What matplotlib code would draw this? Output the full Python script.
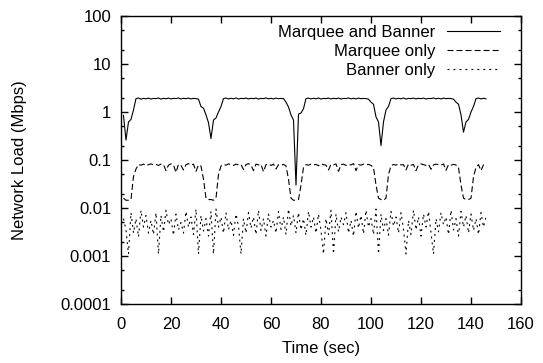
import numpy as np
import matplotlib
matplotlib.use("Agg")
from matplotlib import pyplot as plt
from matplotlib.ticker import FixedLocator, NullFormatter

# sampled once per second
time_sec = np.arange(1, 147)

marquee_banner = [
    0.85, 0.26, 0.62, 0.70, 1.10, 1.90, 1.95, 1.85, 1.92, 1.88,
    1.95, 1.86, 1.92, 1.90, 1.96, 1.85, 1.93, 1.88, 1.95, 1.87,
    1.92, 1.90, 1.96, 1.86, 1.93, 1.89, 1.95, 1.87, 1.92, 1.90,
    1.85, 1.30, 1.20, 0.87, 0.60, 0.28, 0.68, 0.75, 1.00, 1.30,
    1.90, 1.95, 1.87, 1.93, 1.88, 1.96, 1.86, 1.92, 1.90, 1.95,
    1.87, 1.93, 1.89, 1.95, 1.86, 1.92, 1.90, 1.96, 1.88, 1.93,
    1.87, 1.95, 1.89, 1.92, 1.90, 1.60, 1.27, 0.87, 0.68, 0.030,
    0.90, 0.95, 1.17, 1.90, 1.95, 1.87, 1.93, 1.88, 1.96, 1.86,
    1.92, 1.90, 1.95, 1.87, 1.93, 1.89, 1.95, 1.86, 1.92, 1.90,
    1.96, 1.88, 1.93, 1.87, 1.95, 1.89, 1.92, 1.90, 1.85, 1.60,
    1.45, 0.79, 0.62, 0.20, 0.62, 1.10, 1.30, 1.90, 1.95, 1.87,
    1.93, 1.88, 1.96, 1.86, 1.92, 1.90, 1.95, 1.87, 1.93, 1.89,
    1.95, 1.86, 1.92, 1.90, 1.96, 1.88, 1.93, 1.87, 1.95, 1.89,
    1.92, 1.90, 1.85, 1.60, 1.45, 0.87, 0.38, 0.62, 0.70, 1.00,
    1.30, 1.90, 1.95, 1.87, 1.93, 1.88,
]

marquee_only = [
    0.016, 0.0145, 0.0145, 0.015, 0.045, 0.065, 0.080, 0.078, 0.082, 0.076,
    0.080, 0.083, 0.079, 0.081, 0.077, 0.082, 0.080, 0.060, 0.078, 0.083,
    0.079, 0.055, 0.081, 0.077, 0.062, 0.080, 0.084, 0.078, 0.082, 0.058,
    0.079, 0.075, 0.040, 0.016, 0.015, 0.015, 0.0145, 0.016, 0.050, 0.075,
    0.081, 0.078, 0.083, 0.080, 0.077, 0.082, 0.079, 0.081, 0.063, 0.080,
    0.084, 0.078, 0.060, 0.082, 0.079, 0.081, 0.057, 0.080, 0.083, 0.077,
    0.082, 0.065, 0.080, 0.078, 0.081, 0.075, 0.040, 0.016, 0.0145, 0.0145,
    0.015, 0.030, 0.070, 0.080, 0.078, 0.082, 0.079, 0.081, 0.076, 0.083,
    0.080, 0.078, 0.062, 0.081, 0.079, 0.083, 0.058, 0.080, 0.082, 0.077,
    0.081, 0.079, 0.084, 0.060, 0.080, 0.078, 0.082, 0.079, 0.081, 0.077,
    0.070, 0.030, 0.016, 0.015, 0.0145, 0.016, 0.050, 0.075, 0.081, 0.078,
    0.083, 0.079, 0.080, 0.062, 0.082, 0.078, 0.081, 0.060, 0.079, 0.083,
    0.080, 0.077, 0.081, 0.064, 0.079, 0.082, 0.080, 0.078, 0.083, 0.061,
    0.080, 0.078, 0.081, 0.079, 0.070, 0.030, 0.016, 0.015, 0.015, 0.016,
    0.045, 0.070, 0.080, 0.060, 0.080, 0.075,
]

banner_only = [
    0.006, 0.0035, 0.0011, 0.008, 0.003, 0.006, 0.0025, 0.009, 0.004, 0.007,
    0.003, 0.0055, 0.0028, 0.008, 0.0011, 0.007, 0.0032, 0.009, 0.0045, 0.006,
    0.0027, 0.0075, 0.0035, 0.005, 0.003, 0.0085, 0.004, 0.0065, 0.0028, 0.0095,
    0.0011, 0.007, 0.0033, 0.006, 0.0026, 0.0085, 0.0011, 0.0095, 0.004, 0.0065,
    0.003, 0.008, 0.0035, 0.0055, 0.0027, 0.0075, 0.0042, 0.0011, 0.006, 0.003,
    0.008, 0.0038, 0.0065, 0.0028, 0.009, 0.0034, 0.006, 0.0026, 0.0075, 0.004,
    0.0055, 0.003, 0.0085, 0.0036, 0.0065, 0.0028, 0.0095, 0.0042, 0.007, 0.003,
    0.008, 0.0035, 0.006, 0.0027, 0.0085, 0.004, 0.0065, 0.003, 0.0075, 0.0034,
    0.0011, 0.006, 0.0028, 0.009, 0.0011, 0.0075, 0.0032, 0.0065, 0.0045, 0.008,
    0.003, 0.0055, 0.0026, 0.0085, 0.0038, 0.007, 0.0029, 0.009, 0.004, 0.006,
    0.0028, 0.0095, 0.0011, 0.0075, 0.0034, 0.006, 0.0027, 0.0085, 0.0042, 0.0065,
    0.003, 0.008, 0.0036, 0.0011, 0.0055, 0.0028, 0.009, 0.0035, 0.0065, 0.0026,
    0.0075, 0.004, 0.0085, 0.003, 0.0011, 0.006, 0.0032, 0.008, 0.0045, 0.0065,
    0.0028, 0.009, 0.0035, 0.006, 0.0026, 0.0085, 0.004, 0.007, 0.003, 0.0075,
    0.0034, 0.006, 0.0028, 0.008, 0.004, 0.0065,
]

x_ticks = [0, 20, 40, 60, 80, 100, 120, 140, 160]
y_ticks = [0.0001, 0.001, 0.01, 0.1, 1, 10, 100]
y_tick_labels = ["0.0001", "0.001", "0.01", "0.1", "1", "10", "100"]
# minor tics at 2x and 5x each decade
y_minor = [m * d for d in [0.0001, 0.001, 0.01, 0.1, 1, 10] for m in (2, 5)]

plt.rcParams['font.family'] = ['Liberation Sans', 'DejaVu Sans']
plt.rcParams['font.size'] = 12
plt.rcParams['lines.scale_dashes'] = False

fig = plt.figure(figsize=(5.43, 3.63), dpi=100)
fig.subplots_adjust(left=0.2228, right=0.9595, bottom=0.1625, top=0.956)
ax = fig.add_subplot(111)

ax.plot(time_sec, marquee_banner, color='black', lw=0.8, label="Marquee and Banner")
ax.plot(time_sec, marquee_only, color='black', lw=0.8, dashes=(4.3, 2.2), label="Marquee only")
ax.plot(time_sec, banner_only, color='black', lw=0.8, dashes=(1.4, 2.9), label="Banner only")

ax.set_yscale('log')
ax.set_xlim(0, 160)
ax.set_ylim(0.0001, 100)
ax.set_xticks(x_ticks)
ax.set_xticklabels([str(v) for v in x_ticks])
ax.yaxis.set_major_locator(FixedLocator(y_ticks))
ax.set_yticklabels(y_tick_labels)
ax.yaxis.set_minor_locator(FixedLocator(y_minor))
ax.yaxis.set_minor_formatter(NullFormatter())
ax.tick_params(which='both', direction='in', top=True, right=True, width=1.0)
ax.tick_params(which='major', length=5)
ax.tick_params(which='minor', length=2.5)
ax.tick_params(axis='x', pad=9)
ax.tick_params(axis='y', pad=7)
for s in ax.spines.values():
    s.set_linewidth(1.0)

ax.set_xlabel("Time (sec)", labelpad=7)
ax.set_ylabel("Network Load (Mbps)", labelpad=24)

ax.legend(loc='upper right', bbox_to_anchor=(0.9475, 0.97), frameon=False,
          markerfirst=False, borderpad=0, borderaxespad=0,
          handlelength=3.2, handletextpad=0.7, labelspacing=0.25)

fig.savefig("out.png", dpi=100)
